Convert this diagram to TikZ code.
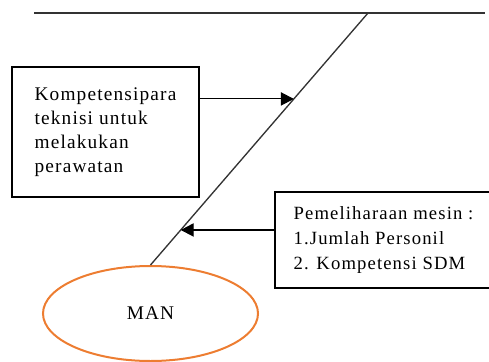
\documentclass[tikz,border=0pt]{standalone}
\usepackage{fontspec}
\setmainfont{Liberation Serif}[LetterSpace=6]
\usetikzlibrary{shapes,arrows.meta,calc,positioning}
\definecolor{morange}{HTML}{ED7D31}
\definecolor{mline}{HTML}{333333}
\tikzstyle{l2}=[line width=1pt, draw=mline]
\tikzstyle{cause}=[rectangle, draw=black, line width=0.8pt, align=left, inner sep=0pt, font=\fontsize{14.5}{18}\selectfont]
\tikzstyle{effect}=[ellipse, draw=morange, line width=1.5pt, minimum width=161.25pt, minimum height=71.25pt, font=\fontsize{14.5}{18}\selectfont]
\tikzstyle{tip}=[line width=0.8pt, -{Triangle[length=9.75pt,width=10pt]}]

\begin{document}
\begin{tikzpicture}[x=0.75pt, y=-0.75pt]
    \useasboundingbox (0,0) rectangle (489,361);

    % head line and spine
    \coordinate (lineL) at (34,13);
    \coordinate (lineR) at (485,13);
    \coordinate (spine) at (368,13);
    \node[effect] (man) at (150.5,313.5) {MAN};
    \draw[l2] (lineL) -- (lineR);
    \draw[l2] (spine) -- (man.north);

    % causes
    \node[cause, minimum width=140.25pt, minimum height=97.5pt] (kompetensi) at (105.5,132)
        {Kompetensipara\\teknisi untuk\\melakukan\\perawatan};
    \node[cause, minimum width=162.75pt, minimum height=72pt, font=\fontsize{14}{18.75}\selectfont] (pemeliharaan) at (383.5,240)
        {Pemeliharaan mesin :\\1.Jumlah Personil\\2. Kompetensi SDM};

    \coordinate (in1) at ($(spine)!0.341!(man.north)$);
    \coordinate (in2) at ($(spine)!0.861!(man.north)$);
    \draw[tip] (kompetensi.east |- in1) -- (in1);
    \draw[tip] (pemeliharaan.west |- in2) -- (in2);

\end{tikzpicture}
\end{document}
